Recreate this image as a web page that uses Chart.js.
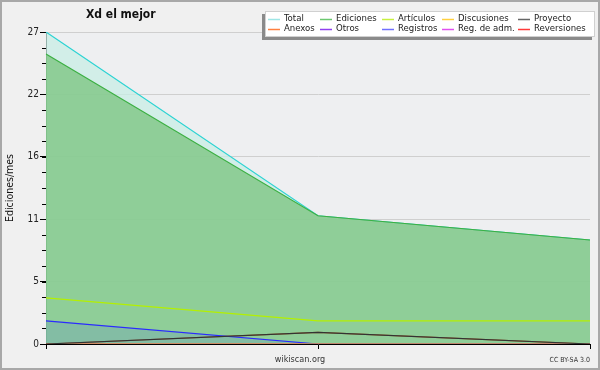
<!DOCTYPE html>
<html>
<head>
<meta charset="utf-8">
<script src="https://cdn.jsdelivr.net/npm/chart.js@4/dist/chart.umd.min.js"></script>
<style>
  html, body { margin: 0; padding: 0; background: #f0f0f0; }
  #wrap { width: 600px; height: 370px; }
</style>
</head>
<body>
<div id="wrap"><canvas id="chart" width="600" height="370"></canvas></div>
<script>
// Data
const months = ['', '', ''];
const total = [27, 11.1, 9];
const ediciones = [25.1, 11.1, 9];
const articulos = [4, 2, 2];
const discusiones = [0, 0, 0];
const proyecto = [0, 1, 0];
const anexos = [0, 1, 0];
const otros = [0, 0, 0];
const registros = [2, 0, 0];
const regAdm = [0, 0, 0];
const reversiones = [0, 0, 0];

const yMax = 27;
const yTickLabels = ['0', '5', '11', '16', '22', '27'];
const minorPerMajor = 4;

// legend swatch colours (lighter than the drawn lines, as in the original)
const legendColors = ['#9ee6e6', '#6cc870', '#c8f040', '#ffd040', '#666666',
                      '#ff8040', '#9040f0', '#7070ff', '#e050f0', '#ff3a3a'];

const FONT = "'DejaVu Sans Condensed', 'DejaVu Sans', sans-serif";

function line(label, data, color, extra) {
    return Object.assign({
        label: label,
        data: data,
        borderColor: color,
        borderWidth: 1.2,
        pointRadius: 0,
        tension: 0,
        fill: false,
        order: 1
    }, extra || {});
}

const datasets = [
    line('Total', total, '#2dd3d3', { fill: 'origin', backgroundColor: 'rgba(200,238,228,0.75)', order: 5 }),
    line('Ediciones', ediciones, '#3cb043', { fill: 'origin', backgroundColor: 'rgba(120,195,125,0.75)', order: 4 }),
    line('Artículos', articulos, '#b4f000'),
    line('Discusiones', discusiones, '#ffcc00'),
    line('Proyecto', proyecto, '#333333', { order: 0 }),
    line('Anexos', anexos, '#b07030', { order: 2 }),
    line('Otros', otros, '#8030e0'),
    line('Registros', registros, '#2a2aff', { fill: 'origin', backgroundColor: 'rgba(90,130,210,0.22)', order: 1 }),
    line('Reg. de adm.', regAdm, '#e040f0'),
    line('Reversiones', reversiones, '#ff3030')
];

const decor = {
    id: 'decor',
    beforeDraw(chart) {
        const ctx = chart.ctx;
        const a = chart.chartArea;
        ctx.save();
        ctx.fillStyle = '#f0f0f0';
        ctx.fillRect(0, 0, chart.width, chart.height);
        ctx.fillStyle = '#eeeff1';
        ctx.fillRect(a.left, a.top, a.right - a.left, a.bottom - a.top);
        ctx.restore();
    },
    afterDraw(chart) {
        const ctx = chart.ctx;
        const a = chart.chartArea;
        const y = chart.scales.y;
        ctx.save();

        // frame
        ctx.strokeStyle = '#a8a8a8';
        ctx.lineWidth = 2;
        ctx.strokeRect(1, 1, chart.width - 2, chart.height - 2);

        // minor ticks
        ctx.strokeStyle = '#000';
        ctx.lineWidth = 1;
        const step = yMax / (yTickLabels.length - 1) / minorPerMajor;
        for (let v = step; v < yMax; v += step) {
            const py = Math.round(y.getPixelForValue(v)) + 0.5;
            ctx.beginPath();
            ctx.moveTo(a.left - 4, py);
            ctx.lineTo(a.left, py);
            ctx.stroke();
        }

        // title
        ctx.fillStyle = '#111';
        ctx.font = 'bold 12px ' + FONT;
        ctx.textAlign = 'left';
        ctx.textBaseline = 'middle';
        ctx.fillText('Xd el mejor', 86, 15);

        // y title
        ctx.save();
        ctx.translate(10, (a.top + a.bottom) / 2);
        ctx.rotate(-Math.PI / 2);
        ctx.textAlign = 'center';
        ctx.font = '10.5px ' + FONT;
        ctx.fillText('Ediciones/mes', 0, 0);
        ctx.restore();

        // footer
        ctx.fillStyle = '#333';
        ctx.textAlign = 'center';
        ctx.font = '9px ' + FONT;
        ctx.fillText('wikiscan.org', 300, 360);
        ctx.textAlign = 'right';
        ctx.font = '7px ' + FONT;
        ctx.fillText('CC BY-SA 3.0', 590, 360);

        // legend
        const bx = 265, by = 11, bw = 330, bh = 26;
        ctx.fillStyle = '#8a8a8a';
        ctx.fillRect(bx - 3, by + 3, bw, bh);
        ctx.fillStyle = '#ffffff';
        ctx.fillRect(bx, by, bw, bh);
        ctx.strokeStyle = '#d0d0d0';
        ctx.lineWidth = 1;
        ctx.strokeRect(bx + 0.5, by + 0.5, bw - 1, bh - 1);
        const cols = [268, 320, 382, 442, 518];
        const rows = [19, 29];
        ctx.font = '9.5px ' + FONT;
        ctx.textAlign = 'left';
        ctx.textBaseline = 'middle';
        chart.data.datasets.forEach((ds, i) => {
            const cx = cols[i % 5];
            const cy = rows[Math.floor(i / 5)];
            ctx.strokeStyle = legendColors[i];
            ctx.lineWidth = 1.5;
            ctx.beginPath();
            ctx.moveTo(cx, cy + 0.5);
            ctx.lineTo(cx + 12, cy + 0.5);
            ctx.stroke();
            ctx.fillStyle = '#222';
            ctx.fillText(ds.label, cx + 16, cy);
        });
        ctx.restore();
    }
};

new Chart(document.getElementById('chart'), {
    type: 'line',
    data: { labels: months, datasets: datasets },
    options: {
        responsive: false,
        animation: false,
        layout: { padding: { top: 32, right: 10, left: 0, bottom: 0 } },
        plugins: { legend: { display: false }, tooltip: { enabled: false } },
        scales: {
            x: {
                offset: false,
                z: 1,
                grid: { drawOnChartArea: false, tickColor: '#000', tickLength: 5 },
                border: { color: '#000', width: 1 },
                ticks: { display: false },
                afterFit(s) { s.height = 26; }
            },
            y: {
                min: 0,
                max: yMax,
                grid: { color: '#cfcfcf', tickColor: '#000', tickLength: 6 },
                border: { color: '#000', width: 1 },
                afterBuildTicks(s) {
                    s.ticks = yTickLabels.map((t, i) => ({ value: i * yMax / (yTickLabels.length - 1) }));
                },
                ticks: {
                    callback: (v, i) => yTickLabels[i],
                    color: '#222',
                    font: { family: FONT, size: 10 },
                    padding: 1
                },
                afterFit(s) { s.width = 46; }
            }
        }
    },
    plugins: [decor]
});
</script>
</body>
</html>
